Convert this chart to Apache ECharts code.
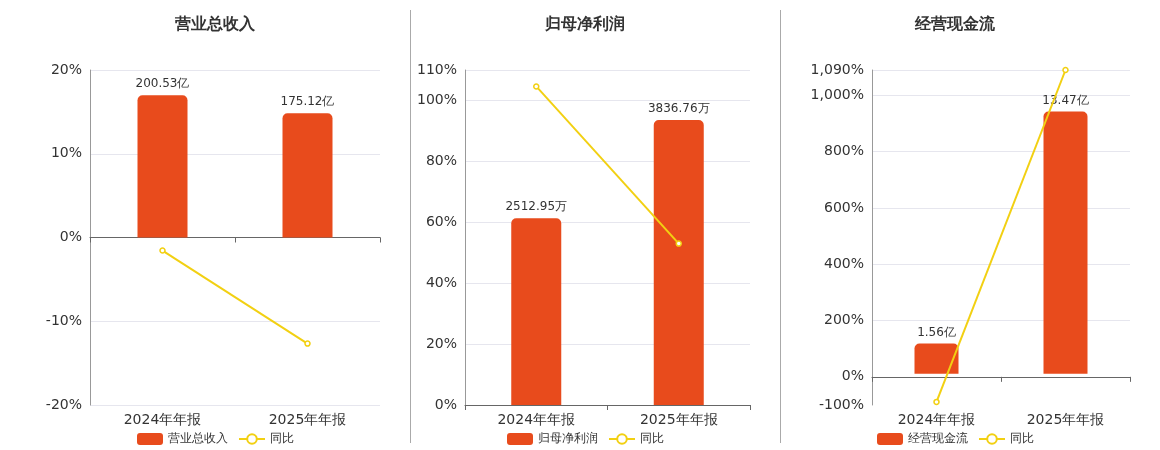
<!DOCTYPE html>
<html><head><meta charset="utf-8">
<script src="https://cdn.jsdelivr.net/npm/echarts@6/dist/echarts.min.js"></script>
<style>html,body{margin:0;padding:0;background:#fff}#c{width:1160px;height:450px}</style>
</head><body><div id="c"></div>
<script>
const categories = ['2024年年报', '2025年年报'];
const titles = ['营业总收入', '归母净利润', '经营现金流'];
const revenue = [200.53, 175.12];
const revenueYoY = [-1.56, -12.67];
const profit = [2512.95, 3836.76];
const profitYoY = [104.6, 53.0];
const cash = [1.56, 13.47];
const cashYoY = [-89, 1090];
const barLabels = [['200.53亿', '175.12亿'], ['2512.95万', '3836.76万'], ['1.56亿', '13.47亿']];

const BAR = '#E84B1C', LINE = '#F2D012';
const panels = [
  {left: 90, right: 780, yMin: -20, yMax: 20, interval: 10, bMin: -236, bMax: 236, bars: revenue, yoy: revenueYoY, bw: 50},
  {left: 465, right: 410, yMin: 0, yMax: 110, interval: 20, bMin: 0, bMax: 4510, bars: profit, yoy: profitYoY, bw: 50},
  {left: 872, right: 30, yMin: -100, yMax: 1090, interval: 100, bMin: -1.6, bMax: 15.6, bars: cash, yoy: cashYoY, bw: 44,
   custom: [-100, 0, 200, 400, 600, 800, 1000, 1090]}
];
const fmt = v => v.toLocaleString('en-US') + '%';
const FF = 'DejaVu Sans';
const opt = {textStyle: {fontFamily: FF}, grid: [], xAxis: [], yAxis: [], series: [], title: [], legend: [],
  graphic: [
    {type: 'line', shape: {x1: 410.5, y1: 10, x2: 410.5, y2: 443}, style: {stroke: '#aaa', lineWidth: 1}},
    {type: 'line', shape: {x1: 780.5, y1: 10, x2: 780.5, y2: 443}, style: {stroke: '#aaa', lineWidth: 1}}
  ], animation: false};
panels.forEach((p, i) => {
  const cx = [210, 580, 950][i];
  opt.title.push({text: titles[i], left: cx, top: 12, textAlign: 'center',
    textStyle: {fontSize: 16, fontWeight: 'bold', color: '#333', fontFamily: FF}});
  opt.legend.push({data: [titles[i], '同比'], left: cx - 78, top: 428,
    itemWidth: 26, itemHeight: 12, itemGap: 10, textStyle: {fontSize: 12, color: '#333', fontFamily: FF}});
  opt.grid.push({left: p.left, right: p.right, top: 70, bottom: 45});
  opt.xAxis.push({type: 'category', gridIndex: i, data: categories,
    axisLine: {onZero: true, onZeroAxisIndex: 2 * i, lineStyle: {color: '#666'}},
    axisTick: {show: true, lineStyle: {color: '#666'}}, axisLabel: {show: false}});
  opt.xAxis.push({type: 'category', gridIndex: i, data: categories, position: 'bottom',
    axisLine: {show: false, onZero: false}, axisTick: {show: false},
    axisLabel: {fontSize: 14, color: '#333', margin: 8, fontFamily: FF}});
  const ya = {type: 'value', gridIndex: i, min: p.yMin, max: p.yMax, interval: p.interval,
    axisLine: {show: true, lineStyle: {color: '#999'}}, axisTick: {show: false},
    axisLabel: {fontSize: 14, color: '#333', formatter: fmt, fontFamily: FF},
    splitLine: {lineStyle: {color: '#e6e6ee'}}};
  if (p.custom) {
    ya.axisLabel.customValues = p.custom;
    ya.axisTick.customValues = p.custom;
    ya.splitLine.show = false;
  }
  opt.yAxis.push(ya);
  opt.yAxis.push({type: 'value', gridIndex: i, min: p.bMin, max: p.bMax, show: false, splitLine: {show: false}});
  opt.series.push({name: titles[i], type: 'bar', xAxisIndex: 2 * i, yAxisIndex: 2 * i + 1, z: 3,
    data: p.bars, barWidth: p.bw, itemStyle: {color: BAR, borderRadius: [5, 5, 0, 0]},
    label: {show: true, position: 'top', fontSize: 12, color: '#333', fontFamily: FF,
      formatter: q => barLabels[i][q.dataIndex]}});
  opt.series.push({name: '同比', type: 'line', xAxisIndex: 2 * i, yAxisIndex: 2 * i,
    data: p.yoy, symbol: 'circle', symbolSize: 5, lineStyle: {color: LINE, width: 2},
    itemStyle: {color: '#fff', borderColor: LINE, borderWidth: 1.5}, z: 5});
});
opt.series.push({type: 'line', xAxisIndex: 4, yAxisIndex: 4, data: [], silent: true, z: 0,
  markLine: {symbol: 'none', silent: true, label: {show: false}, z: 0,
    lineStyle: {color: '#e6e6ee', type: 'solid', width: 1},
    data: [200, 400, 600, 800, 1000, 1090].map(v => ({yAxis: v}))}});
echarts.init(document.getElementById('c')).setOption(opt);
</script></body></html>
